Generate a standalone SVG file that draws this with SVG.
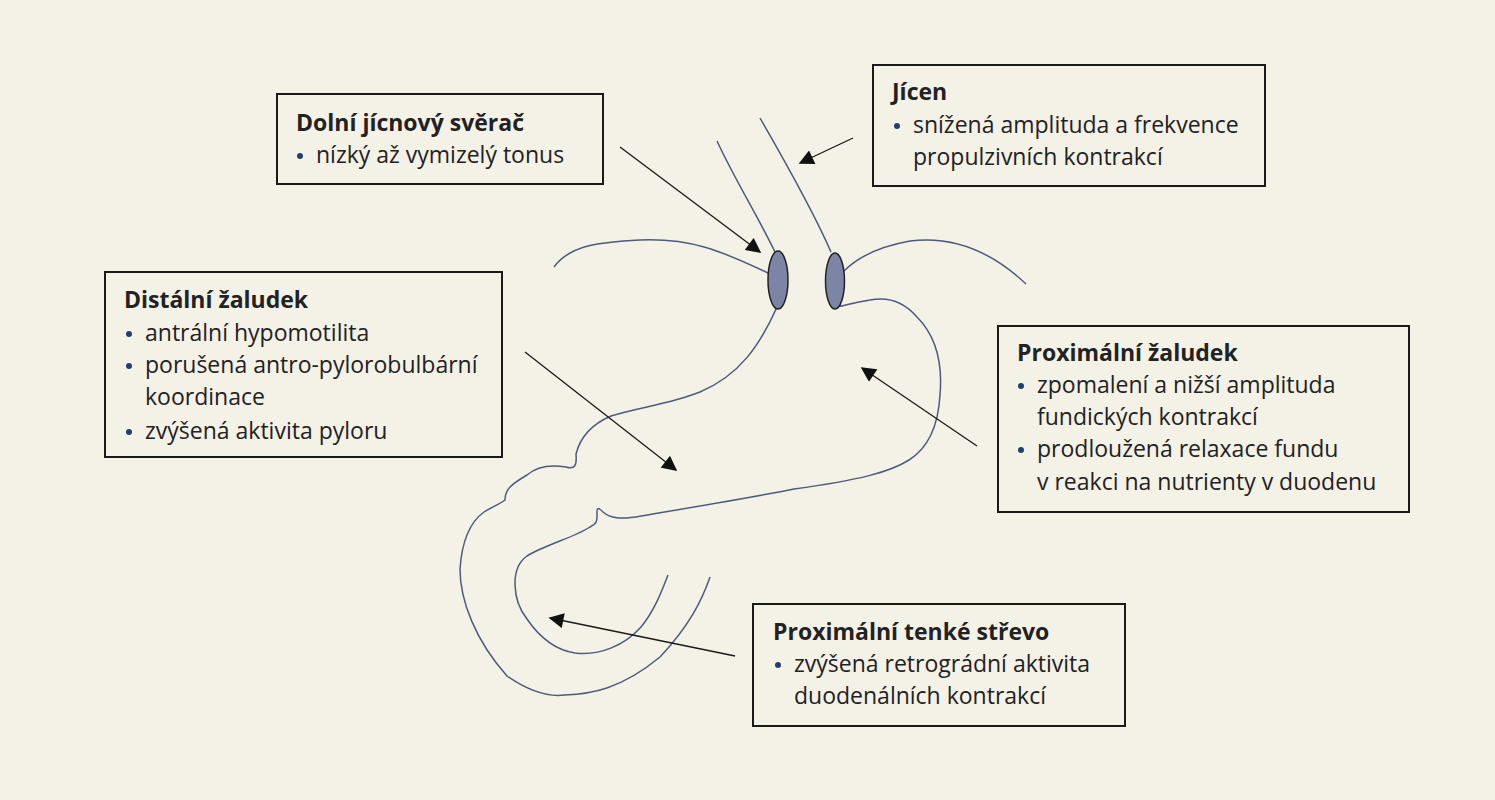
<svg xmlns="http://www.w3.org/2000/svg" width="1495" height="800" viewBox="0 0 1495 800">
<style>
.box{fill:none;stroke:#1a1a1a;stroke-width:2}
.t{font-family:"Open Sans","Noto Sans",sans-serif;font-size:23px;fill:#222}
.b{font-weight:bold}
.dot{fill:#1f3f6e}
.org{fill:none;stroke:#4f5a7a;stroke-width:1.5}
.arr{stroke:#1a1a1a;stroke-width:1.3;marker-end:url(#ah)}
</style>
<defs><marker id="ah" viewBox="0 0 10 10" refX="9" refY="5" markerWidth="16" markerHeight="15" markerUnits="userSpaceOnUse" orient="auto"><path d="M0,0L10,5L0,10z" fill="#111"/></marker></defs>
<rect width="1495" height="800" fill="#f4f1e7"/>
<g id="organ">
<path class="org" d="M717,141 C735,180 760,220 776,254"/>
<path class="org" d="M760,118 C790,170 815,215 831,252"/>
<path class="org" d="M554,267 C570,245 600,242 640,240 C690,238 720,250 770,274"/>
<path class="org" d="M844,271 C860,255 882,246 910,241 C950,236 990,250 1026,284"/>
<path class="org" d="M777,307 C760,345 740,375 700,392 C670,404 640,407 611,416 C590,425 580,438 576,454 C577,465 575,470 566,467 C548,464 535,468 527,475 C510,485 505,490 505,500 C500,504 490,508 484,512 C470,522 462,540 460,569 C460,600 475,640 507,676 C530,692 550,697 565,695 C590,694 620,690 660,657 C690,625 702,600 710,577"/>
<path class="org" d="M835,307 C845,306 850,303 870,300 C890,296 905,303 917,317 C935,335 943,360 940,395 C938,430 925,450 909,460 C890,472 860,480 794,489 C760,496 700,506 641,516 C620,520 610,518 603,512 C598,507 597,508 597,512 C597,520 598,523 590,527 C575,537 545,545 527,556 C510,568 512,600 527,619 C540,638 555,650 575,653 C600,656 625,645 641,627 C655,610 662,590 668,575"/>
<ellipse cx="778" cy="280" rx="10" ry="29" fill="#7d85a6" stroke="#222" stroke-width="1.5"/>
<ellipse cx="835" cy="281" rx="9.5" ry="28" fill="#7d85a6" stroke="#222" stroke-width="1.5"/>
</g>
<g id="connectors">
<line class="arr" x1="620" y1="147" x2="760" y2="252"/>
<line class="arr" x1="853" y1="138" x2="800" y2="163"/>
<line class="arr" x1="525" y1="352" x2="676" y2="470"/>
<line class="arr" x1="977" y1="446" x2="862" y2="368"/>
<line class="arr" x1="735" y1="656" x2="550" y2="618"/>
</g>
<g id="n-dolni">
<rect class="box" x="277" y="94" width="326" height="90"/>
<text class="t b" x="296" y="131">Dolní jícnový svěrač</text>
<circle class="dot" cx="300" cy="156" r="3"/><text class="t" x="316" y="163">nízký až vymizelý tonus</text>
</g>
<g id="n-jicen">
<rect class="box" x="873" y="65" width="392" height="121"/>
<text class="t b" x="892" y="100">Jícen</text>
<circle class="dot" cx="897" cy="126" r="3"/><text class="t" x="913" y="133">snížená amplituda a frekvence</text>
<text class="t" x="913" y="165">propulzivních kontrakcí</text>
</g>
<g id="n-distal">
<rect class="box" x="105" y="272" width="397" height="185"/>
<text class="t b" x="124" y="308">Distální žaludek</text>
<circle class="dot" cx="129" cy="334" r="3"/><text class="t" x="145" y="341">antrální hypomotilita</text>
<circle class="dot" cx="129" cy="366" r="3"/><text class="t" x="145" y="373">porušená antro-pylorobulbární</text>
<text class="t" x="145" y="405">koordinace</text>
<circle class="dot" cx="129" cy="432" r="3"/><text class="t" x="145" y="439">zvýšená aktivita pyloru</text>
</g>
<g id="n-proxzal">
<rect class="box" x="998" y="326" width="411" height="186"/>
<text class="t b" x="1017" y="361">Proximální žaludek</text>
<circle class="dot" cx="1021" cy="386" r="3"/><text class="t" x="1037" y="393">zpomalení a nižší amplituda</text>
<text class="t" x="1037" y="425">fundických kontrakcí</text>
<circle class="dot" cx="1021" cy="450" r="3"/><text class="t" x="1037" y="457">prodloužená relaxace fundu</text>
<text class="t" x="1037" y="490">v reakci na nutrienty v duodenu</text>
</g>
<g id="n-streva">
<rect class="box" x="753" y="604" width="372" height="122"/>
<text class="t b" x="773" y="640">Proximální tenké střevo</text>
<circle class="dot" cx="778" cy="665" r="3"/><text class="t" x="794" y="672">zvýšená retrográdní aktivita</text>
<text class="t" x="794" y="704">duodenálních kontrakcí</text>
</g>
</svg>
